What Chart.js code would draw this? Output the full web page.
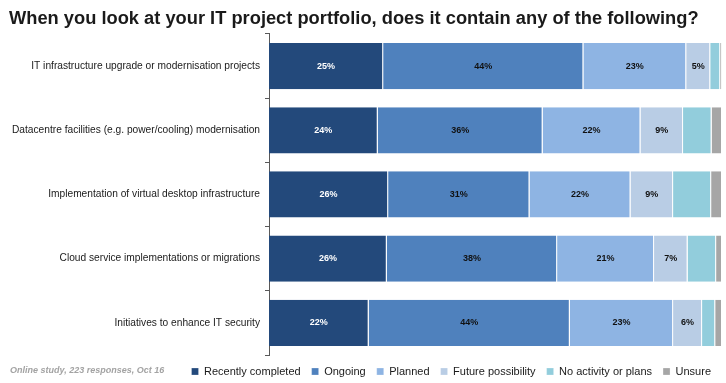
<!DOCTYPE html>
<html>
<head>
<meta charset="utf-8">
<script src="https://cdn.jsdelivr.net/npm/chart.js@4"></script>
<style>
  html, body { margin: 0; padding: 0; background: #fff; }
  #wrap { width: 726px; height: 383px; }
</style>
</head>
<body>
<div id="wrap"><canvas id="myChart" width="726" height="383"></canvas></div>
<script>
const categories = [
  'IT infrastructure upgrade or modernisation projects',
  'Datacentre facilities (e.g. power/cooling) modernisation',
  'Implementation of virtual desktop infrastructure',
  'Cloud service implementations or migrations',
  'Initiatives to enhance IT security'
];
const recentlyCompleted = [25.2, 24, 26.3, 26, 22];
const ongoing = [44.2, 36.4, 31.2, 37.6, 44.4];
const planned = [22.7, 21.6, 22.3, 21.4, 22.8];
const futurePossibility = [5.3, 9.4, 9.4, 7.4, 6.4];
const noActivity = [2.2, 6.3, 8.4, 6.3, 2.9];
const unsure = [0.4, 2.3, 2.4, 1.3, 1.5];

const series = [
  {label: 'Recently completed', data: recentlyCompleted, color: '#23497b', text: '#ffffff'},
  {label: 'Ongoing', data: ongoing, color: '#4f81bd', text: '#111111'},
  {label: 'Planned', data: planned, color: '#8eb4e3', text: '#111111'},
  {label: 'Future possibility', data: futurePossibility, color: '#b9cde5', text: '#111111'},
  {label: 'No activity or plans', data: noActivity, color: '#92cddc', text: null},
  {label: 'Unsure', data: unsure, color: '#a6a6a6', text: null}
];

// percentage labels inside the segments (only the first four series are labelled)
const segLabels = {
  id: 'segLabels',
  afterDatasetsDraw(chart) {
    const ctx = chart.ctx;
    ctx.save();
    ctx.font = 'bold 9px "Liberation Sans", Arial, sans-serif';
    ctx.textAlign = 'center';
    ctx.textBaseline = 'middle';
    chart.data.datasets.forEach((ds, i) => {
      if (!series[i].text) return;
      chart.getDatasetMeta(i).data.forEach((bar, j) => {
        const v = ds.data[j];
        if (v < 4.5) return;
        ctx.fillStyle = series[i].text;
        ctx.fillText(Math.round(v) + '%', (bar.x + bar.base) / 2, bar.y);
      });
    });
    ctx.restore();
  }
};

const footNote = {
  id: 'footNote',
  afterDraw(chart) {
    const ctx = chart.ctx;
    ctx.save();
    ctx.font = 'italic bold 9px "Liberation Sans", Arial, sans-serif';
    ctx.fillStyle = '#a3a3a3';
    ctx.textBaseline = 'middle';
    ctx.fillText('Online study, 223 responses, Oct 16', 10, 371);
    ctx.restore();
  }
};

const cfg = {
  type: 'bar',
  data: {
    labels: categories,
    datasets: series.map(s => ({
      label: s.label,
      data: s.data,
      backgroundColor: s.color,
      borderColor: '#ffffff',
      borderWidth: {left: 0, right: 1, top: 0, bottom: 0},
      borderSkipped: false,
      barPercentage: 0.72,
      categoryPercentage: 1
    }))
  },
  options: {
    indexAxis: 'y',
    responsive: false,
    animation: false,
    layout: {padding: {left: 9, right: 4, top: 2, bottom: -4}},
    scales: {
      x: {
        stacked: true,
        min: 0,
        max: 100,
        display: false
      },
      y: {
        stacked: true,
        afterFit(scale) { scale.width = 260; },
        border: {display: true, color: '#595959', width: 1},
        grid: {drawOnChartArea: false, tickLength: 4, color: '#595959', offset: true},
        ticks: {
          color: '#1a1a1a',
          padding: 5,
          font: {family: '"Liberation Sans", Arial, sans-serif', size: 10.2}
        }
      }
    },
    plugins: {
      title: {
        display: true,
        text: 'When you look at your IT project portfolio, does it contain any of the following?',
        align: 'start',
        color: '#1a1a1a',
        font: {family: '"Liberation Sans", Arial, sans-serif', size: 18.3, weight: 'bold'},
        padding: {top: 6, bottom: 4}
      },
      legend: {
        position: 'bottom',
        align: 'end',
        labels: {
          boxWidth: 7,
          boxHeight: 7,
          padding: 11,
          color: '#1a1a1a',
          font: {family: '"Liberation Sans", Arial, sans-serif', size: 11}
        }
      },
      tooltip: {enabled: false}
    }
  },
  plugins: [segLabels, footNote]
};

const ctx = document.getElementById('myChart');
new Chart(ctx, cfg);
</script>
</body>
</html>
